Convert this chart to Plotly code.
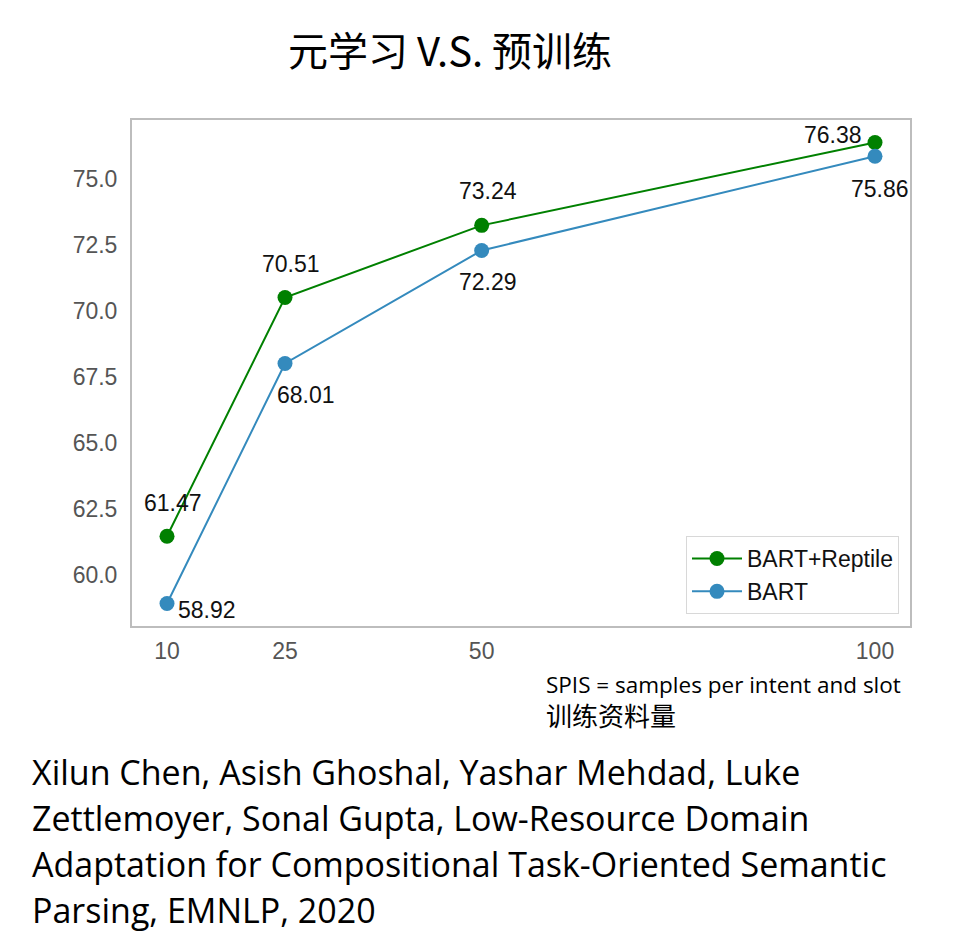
import plotly.graph_objects as go

# ---- data ----
spis = [10, 25, 50, 100]
bart_reptile = [61.47, 70.51, 73.24, 76.38]
bart = [58.92, 68.01, 72.29, 75.86]
series_names = ["BART+Reptile", "BART"]
y_ticks = [60.0, 62.5, 65.0, 67.5, 70.0, 72.5, 75.0]
x_ticks = [10, 25, 50, 100]
title_text = "元学习 V.S. 预训练"
note_lines = ["SPIS = samples per intent and slot", "训练资料量"]
citation_lines = [
    "Xilun Chen, Asish Ghoshal, Yashar Mehdad, Luke",
    "Zettlemoyer, Sonal Gupta, Low-Resource Domain",
    "Adaptation for Compositional Task-Oriented Semantic",
    "Parsing, EMNLP, 2020",
]

# ---- styles ----
W, H = 974, 937
L, R, T, B = 132, 910, 120, 626
GREEN = "#008000"
BLUE = "#348ABD"
LABEL_FONT = dict(family="Liberation Sans, Arial, sans-serif", size=23, color="#111")
TICK_FONT = dict(family="Liberation Sans, Arial, sans-serif", size=23, color="#555")
# label offsets (pixels) for each point
green_off = [(6, 33), (6, 33), (6, 34), (-42, 7)]
blue_off = [(40, -6), (21, -32), (6, -32), (5, -33)]


def px_x(p):
    return (p - L) / (R - L)


def px_y(p):
    return (B - p) / (B - T)


fig = go.Figure()
fig.add_trace(go.Scatter(
    x=spis, y=bart_reptile, mode="lines+markers", name=series_names[0],
    line=dict(color=GREEN, width=2), marker=dict(size=15, color=GREEN),
))
fig.add_trace(go.Scatter(
    x=spis, y=bart, mode="lines+markers", name=series_names[1],
    line=dict(color=BLUE, width=2), marker=dict(size=15, color=BLUE),
))

annotations = []
for xs, ys, offs in ((spis, bart_reptile, green_off), (spis, bart, blue_off)):
    for xv, yv, (dx, dy) in zip(xs, ys, offs):
        annotations.append(dict(
            x=xv, y=yv, xref="x", yref="y", text=f"{yv:.2f}", showarrow=False,
            xshift=dx, yshift=dy, font=LABEL_FONT,
        ))

annotations.append(dict(
    x=px_x(450), y=px_y(49), xref="paper", yref="paper", text=title_text,
    showarrow=False, xanchor="center", yanchor="middle",
    font=dict(family="Noto Sans CJK SC, sans-serif", size=40, color="#000"),
))
note_sizes = [22.5, 26]
for i, line in enumerate(note_lines):
    annotations.append(dict(
        x=px_x(544), y=px_y(684 + 32 * i), xref="paper", yref="paper", text=line,
        showarrow=False, xanchor="left", yanchor="middle",
        font=dict(family="Open Sans, Noto Sans CJK SC, sans-serif", size=note_sizes[i], color="#000"),
    ))
for i, line in enumerate(citation_lines):
    annotations.append(dict(
        x=px_x(30), y=px_y(772 + 46 * i), xref="paper", yref="paper", text=line,
        showarrow=False, xanchor="left", yanchor="middle",
        font=dict(family="Open Sans, sans-serif", size=34, color="#000"),
    ))

axis_common = dict(
    showgrid=False, zeroline=False, showline=True, linecolor="#bdbdbd", linewidth=2,
    mirror=True, ticks="outside", tickcolor="rgba(0,0,0,0)", tickfont=TICK_FONT,
)

fig.update_layout(
    width=W, height=H,
    margin=dict(l=L, r=W - R, t=T, b=H - B),
    paper_bgcolor="white", plot_bgcolor="white",
    showlegend=True,
    legend=dict(
        x=px_x(899), y=px_y(614), xanchor="right", yanchor="bottom",
        bordercolor="#d8d8d8", borderwidth=1, bgcolor="white",
        font=dict(family="Liberation Sans, Arial, sans-serif", size=23, color="#111"),
        itemwidth=50, tracegroupgap=4,
    ),
    xaxis=dict(range=[5.55, 104.45], tickvals=x_ticks, ticktext=[str(v) for v in x_ticks],
               ticklen=3, **axis_common),
    yaxis=dict(range=[58.07, 77.23], tickvals=y_ticks, ticktext=[f"{v:.1f}" for v in y_ticks],
               ticklen=8, **axis_common),
    annotations=annotations,
)

fig.write_html("out.html")
